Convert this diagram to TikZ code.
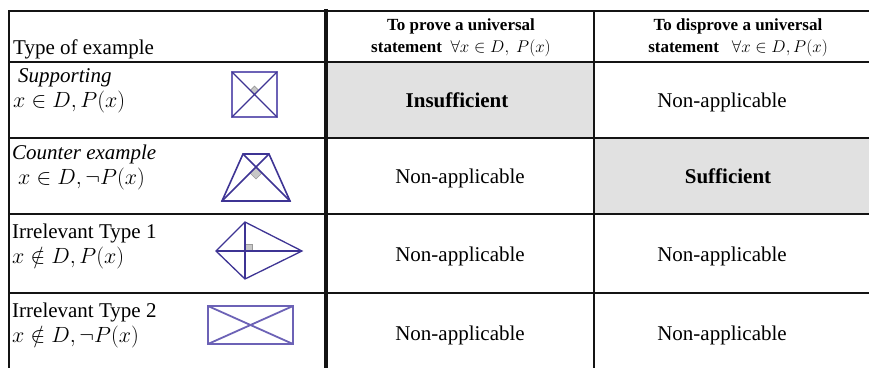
\RequirePackage{fix-cm}
\documentclass[tikz,border=0pt]{standalone}
\usepackage{fontspec}
\setmainfont{Liberation Serif}
\definecolor{rulecol}{RGB}{20,20,20}
\definecolor{cellgray}{RGB}{225,225,225}
\definecolor{figdark}{RGB}{62,52,148}
\definecolor{figsoftcol}{RGB}{108,98,182}
\begin{document}
\begin{tikzpicture}[x=1pt,y=-1pt,
  rule/.style={line width=1.3pt, draw=rulecol},
  thickrule/.style={line width=4pt, draw=rulecol},
  cellfill/.style={fill=cellgray, draw=none},
  lbl/.style={anchor=base west, inner sep=0pt, font=\fontsize{21}{24}\selectfont},
  mathlbl/.style={anchor=base west, inner sep=0pt, font=\fontsize{22}{25}\selectfont},
  bodytxt/.style={anchor=base, inner sep=0pt, font=\fontsize{21}{24}\selectfont},
  headtxt/.style={anchor=base, align=center, inner sep=0pt, font=\fontsize{17}{22}\selectfont\bfseries},
  figline/.style={draw=figdark, line width=1.3pt, line join=miter},
  figsoft/.style={draw=figsoftcol, line width=1.8pt, line join=miter},
  rtmark/.style={fill=black!22, draw=black!40, line width=0.6pt}]
\useasboundingbox (0,0) rectangle (869,367);
\clip (0,0) rectangle (869,367);

% shaded cells
\fill[cellfill] (328,62.7) rectangle (593.3,137.3);
\fill[cellfill] (594.7,138.7) rectangle (890,213.3);

% grid
\foreach \yy in {11,62,138,214,293}
  \draw[rule] (9,\yy) -- (890,\yy);
\draw[rule] (9,10.35) -- (9,380);
\draw[rule] (594,11) -- (594,380);
\draw[thickrule] (326,9) -- (326,380);

% header
\node[lbl] (hType) at (13,54) {Type of example};
\node[headtxt] (hProve) at (461,52) {To prove a universal\\statement~~$\forall x\in D,~P(x)$};
\node[headtxt] (hDisprove) at (738,52) {To disprove a universal\\statement~~~$\forall x\in D,P(x)$};

% row labels
\node[lbl] (l1a) at (18,82) {\itshape Supporting};
\node[mathlbl] (l1b) at (13,107) {$x\in D, P(x)$};
\node[lbl] (l2a) at (12,159) {\itshape Counter example};
\node[mathlbl] (l2b) at (18,184) {$x\in D,\neg P(x)$};
\node[lbl] (l3a) at (12,238) {Irrelevant Type 1};
\node[mathlbl] (l3b) at (12,263) {$x\notin D, P(x)$};
\node[lbl] (l4a) at (12,317) {Irrelevant Type 2};
\node[mathlbl] (l4b) at (12,342) {$x\notin D,\neg P(x)$};

% body cells
\node[bodytxt] (c12) at (457,107) {\bfseries Insufficient};
\node[bodytxt] (c13) at (722,107) {Non-applicable};
\node[bodytxt] (c22) at (460,183) {Non-applicable};
\node[bodytxt] (c23) at (728,183) {\bfseries Sufficient};
\node[bodytxt] (c32) at (460,261) {Non-applicable};
\node[bodytxt] (c33) at (722,261) {Non-applicable};
\node[bodytxt] (c42) at (460,340) {Non-applicable};
\node[bodytxt] (c43) at (722,340) {Non-applicable};

% square with perpendicular diagonals
\draw[rtmark] (254.5,94.5) -- (250.3,90.3) -- (254.5,86.1) -- (258.7,90.3) -- cycle;
\draw[figsoft] (232,72) rectangle (277,117);
\draw[figline] (232,72) -- (277,117) (277,72) -- (232,117);

% isosceles trapezoid with perpendicular diagonals
\draw[rtmark] (256,167) -- (262,173) -- (256,179) -- (250,173) -- cycle;
\draw[figline, line width=1.6pt] (243,154) -- (269,154) -- (290,201) -- (222,201) -- cycle;
\draw[figline, line width=1.6pt] (243,154) -- (290,201) (269,154) -- (222,201);

% kite with perpendicular diagonals
\draw[rtmark] (245,244) rectangle (252,251);
\draw[figline] (245,222) -- (302,251) -- (245,279) -- (216,251) -- cycle;
\draw[figline] (245,222) -- (245,279) (216,251) -- (302,251);

% rectangle with diagonals
\draw[figsoft] (208,306) rectangle (293,344);
\draw[figsoft] (208,306) -- (293,344) (293,306) -- (208,344);
\end{tikzpicture}
\end{document}
